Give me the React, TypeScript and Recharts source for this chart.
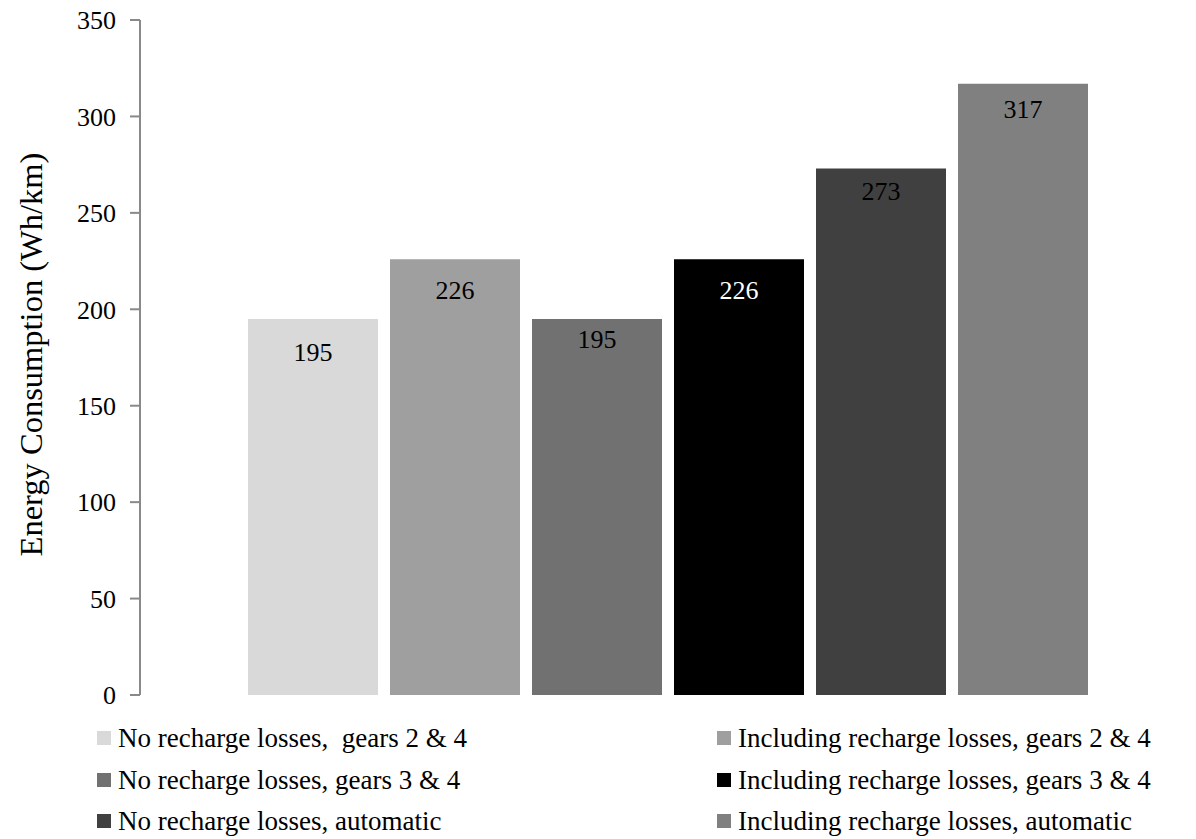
import React from 'react';
import { BarChart, Bar, XAxis, YAxis, Legend, LabelList, Label } from 'recharts';

const categories = [''];
const seriesNames = [
  'No recharge losses,  gears 2 & 4',
  'Including recharge losses, gears 2 & 4',
  'No recharge losses, gears 3 & 4',
  'Including recharge losses, gears 3 & 4',
  'No recharge losses, automatic',
  'Including recharge losses, automatic',
];
const noRecharge24 = [195];
const inclRecharge24 = [226];
const noRecharge34 = [195];
const inclRecharge34 = [226];
const noRechargeAuto = [273];
const inclRechargeAuto = [317];
const yTicks = [0, 50, 100, 150, 200, 250, 300, 350];

const seriesValues = [noRecharge24, inclRecharge24, noRecharge34, inclRecharge34, noRechargeAuto, inclRechargeAuto];
const keys = ['s1', 's2', 's3', 's4', 's5', 's6'];
const colors = ['#d9d9d9', '#9f9f9f', '#717171', '#000000', '#404040', '#808080'];
const labelColors = ['#000', '#000', '#000', '#fff', '#000', '#000'];
const labelOffsets = [24, 21, 11, 21, 13, 16];

const data = categories.map((c, i) => {
  const row: any = { name: c };
  keys.forEach((k, j) => { row[k] = seriesValues[j][i]; });
  return row;
});

const FONT = '"Liberation Serif", "Times New Roman", serif';

const LegendContent = () => (
  <div style={{ position: 'relative', width: 1196, height: 144, fontFamily: FONT, fontSize: 27, color: '#000' }}>
    {seriesNames.map((n, i) => {
      const col = i % 2;
      const row = Math.floor(i / 2);
      const left = col === 0 ? 97 : 717;
      const cy = 43 + row * 41.5;
      return (
        <div key={n} style={{ position: 'absolute', left, top: cy - 17, height: 34, display: 'flex', alignItems: 'center', whiteSpace: 'pre', lineHeight: '34px' }}>
          <span style={{ display: 'inline-block', width: 14, height: 14, background: colors[i], marginRight: 7 }} />
          <span>{n}</span>
        </div>
      );
    })}
  </div>
);

export default function App() {
  return (
    <div style={{ position: 'absolute', left: 0, top: 0, width: 1196, height: 839, background: '#fff' }}>
      <BarChart width={1196} height={839} data={data} margin={{ top: 20, right: 0, bottom: 0, left: 0 }} barSize={130} barGap={12}>
        <XAxis dataKey="name" height={0} tick={false} tickLine={false} axisLine={{ stroke: '#898989', strokeWidth: 2 }} />
        <YAxis
          width={140}
          domain={[0, 350]}
          ticks={yTicks}
          interval={0}
          tickSize={10}
          tickMargin={14}
          axisLine={{ stroke: '#898989', strokeWidth: 2 }}
          tickLine={{ stroke: '#898989', strokeWidth: 2 }}
          tick={{ fill: '#000', fontFamily: FONT, fontSize: 26 }}
        >
          <Label value="Energy Consumption (Wh/km)" angle={-90} position="center" dx={-40} dy={-3} style={{ fontFamily: FONT, fontSize: 32.5, fill: '#000', textAnchor: 'middle' }} />
        </YAxis>
        <Legend verticalAlign="bottom" wrapperStyle={{ left: 0, bottom: 0, width: 1196, height: 144 }} content={() => <LegendContent />} />
        {keys.map((k, i) => (
          <Bar key={k} dataKey={k} name={seriesNames[i]} fill={colors[i]} isAnimationActive={false}>
            <LabelList dataKey={k} position="insideTop" offset={labelOffsets[i]} style={{ fill: labelColors[i], fontFamily: FONT, fontSize: 26 }} />
          </Bar>
        ))}
      </BarChart>
    </div>
  );
}
